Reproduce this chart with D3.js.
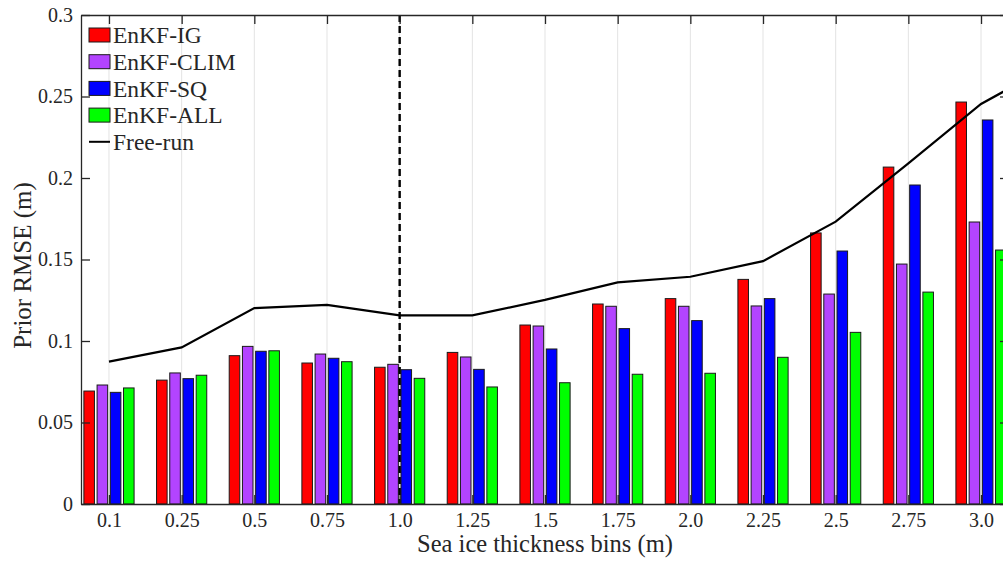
<!DOCTYPE html>
<html>
<head>
<meta charset="utf-8">
<script src="https://cdn.jsdelivr.net/npm/d3@7"></script>
<style>
	body { margin: 0; background: #fff; }
	svg { display: block; }
	text { font-family: "Liberation Serif", "Times New Roman", serif; fill: #262626; }
</style>
</head>
<body>
<svg id="chart" width="1003" height="565"></svg>
<script>
// thickness bins and prior RMSE per experiment
var bins = ["0.1","0.25","0.5","0.75","1.0","1.25","1.5","1.75","2.0","2.25","2.5","2.75","3.0"];
var enkfIG   = [0.0693,0.0760,0.0910,0.0865,0.0839,0.0930,0.1098,0.1227,0.1260,0.1378,0.1663,0.2067,0.2466];
var enkfCLIM = [0.0730,0.0804,0.0967,0.0920,0.0857,0.0902,0.1092,0.1213,0.1213,0.1215,0.1288,0.1472,0.1730];
var enkfSQ   = [0.0685,0.0769,0.0937,0.0894,0.0824,0.0826,0.0951,0.1076,0.1125,0.1260,0.1552,0.1957,0.2356];
var enkfALL  = [0.0712,0.0790,0.0940,0.0873,0.0771,0.0718,0.0744,0.0796,0.0802,0.0900,0.1053,0.1300,0.1558];
var freeRun  = [0.0873,0.0961,0.1202,0.1222,0.1157,0.1157,0.1252,0.1360,0.1394,0.1490,0.1732,0.2090,0.2454,0.2700];
var seriesNames = ["EnKF-IG","EnKF-CLIM","EnKF-SQ","EnKF-ALL"];
var seriesColors = ["#ff0000","#b344ff","#0000ff","#00ff00"];
var yTicks = [0,0.05,0.1,0.15,0.2,0.25,0.3];
var yTickLabels = ["0","0.05","0.1","0.15","0.2","0.25","0.3"];
var splitBin = "1.0";

var series = [enkfIG, enkfCLIM, enkfSQ, enkfALL];

var pLeft = 81, pRight = 1009, pTop = 15, pBottom = 504;

var svg = d3.select("#chart");

var x = d3.scaleLinear().domain([0.615, bins.length + 0.385]).range([pLeft, pRight]);
var y = d3.scaleLinear().domain([0, 0.3]).range([pBottom, pTop]);

// matlab grouped bar geometry
var groupW = series.length / (series.length + 1.5);
var step = groupW / series.length;
var barW = 0.8 * step;

svg.append("defs").append("clipPath")
	.attr("id", "plotClip")
	.append("rect")
	.attr("x", pLeft).attr("y", pTop)
	.attr("width", pRight - pLeft).attr("height", pBottom - pTop);

var g = svg.append("g").attr("clip-path", "url(#plotClip)");

//grid
g.selectAll(".grid")
	.data(bins)
.enter().append("line")
	.attr("class", "grid")
	.attr("x1", function(d,i){ return x(i+1); })
	.attr("x2", function(d,i){ return x(i+1); })
	.attr("y1", pTop)
	.attr("y2", pBottom)
	.style("stroke", "#e3e3e3")
	.style("stroke-width", 1);

//bars
series.forEach(function(vals, k){
	g.selectAll(".bar" + k)
		.data(vals)
	.enter().append("rect")
		.attr("class", "bar" + k)
		.attr("x", function(d,i){ return x(i + 1 - groupW/2 + (k + 0.5)*step - barW/2); })
		.attr("width", x(barW) - x(0))
		.attr("y", function(d){ return y(d); })
		.attr("height", function(d){ return y(0) - y(d); })
		.style("fill", seriesColors[k])
		.style("stroke", "#1a1a1a")
		.style("stroke-width", 1);
});

//free-run line
g.append("path")
	.datum(freeRun)
	.attr("d", d3.line()
		.x(function(d,i){ return x(i+1); })
		.y(function(d){ return y(d); }))
	.style("fill", "none")
	.style("stroke", "#000")
	.style("stroke-width", 2.2);

//dashed split line
var splitX = x(bins.indexOf(splitBin) + 1);
g.append("line")
	.attr("x1", splitX).attr("x2", splitX)
	.attr("y1", pTop).attr("y2", pBottom)
	.style("stroke", "#000")
	.style("stroke-width", 2.4)
	.style("stroke-dasharray", "7,4");

//axes
var tickX = bins.map(function(d,i){ return i+1; });

var xAxis = svg.append("g")
	.attr("transform", "translate(0," + pBottom + ")")
	.call(d3.axisBottom(x).tickValues(tickX).tickFormat(function(d){ return bins[d-1]; })
		.tickSizeInner(-9).tickSizeOuter(0).tickPadding(9));
var xTop = svg.append("g")
	.attr("transform", "translate(0," + pTop + ")")
	.call(d3.axisTop(x).tickValues(tickX).tickFormat("")
		.tickSizeInner(-9).tickSizeOuter(0));
var yAxis = svg.append("g")
	.attr("transform", "translate(" + pLeft + ",0)")
	.call(d3.axisLeft(y).tickValues(yTicks).tickFormat(function(d,i){ return yTickLabels[i]; })
		.tickSizeInner(-9).tickSizeOuter(0).tickPadding(8));
var yRight = svg.append("g")
	.attr("transform", "translate(" + pRight + ",0)")
	.call(d3.axisRight(y).tickValues(yTicks).tickFormat("")
		.tickSizeInner(-9).tickSizeOuter(0));

[xAxis, xTop, yAxis, yRight].forEach(function(a){
	a.select(".domain").style("stroke", "#262626").style("stroke-width", 1.3);
	a.selectAll(".tick line").style("stroke", "#262626").style("stroke-width", 1.3);
	a.selectAll("text")
		.style("font-family", "'Liberation Serif', 'Times New Roman', serif")
		.style("font-size", "20px")
		.style("fill", "#262626");
});

//axis labels
svg.append("text")
	.attr("x", (pLeft + pRight) / 2)
	.attr("y", 552)
	.attr("text-anchor", "middle")
	.style("font-size", "24.5px")
	.text("Sea ice thickness bins (m)");

svg.append("text")
	.attr("transform", "translate(31," + ((pTop + pBottom) / 2 + 6) + ") rotate(-90)")
	.attr("text-anchor", "middle")
	.style("font-size", "25px")
	.text("Prior RMSE (m)");

//legend
var legend = svg.append("g").attr("class", "legend");
seriesNames.forEach(function(name, k){
	var cy = 35 + k * 26.7;
	legend.append("rect")
		.attr("x", 89).attr("y", cy - 7)
		.attr("width", 21).attr("height", 14)
		.style("fill", seriesColors[k])
		.style("stroke", "#1a1a1a")
		.style("stroke-width", 1);
	legend.append("text")
		.attr("x", 113).attr("y", cy)
		.attr("dy", "0.35em")
		.style("font-size", "23.5px")
		.text(name);
});
var ly = 35 + seriesNames.length * 26.7;
legend.append("line")
	.attr("x1", 89).attr("x2", 110)
	.attr("y1", ly).attr("y2", ly)
	.style("stroke", "#000")
	.style("stroke-width", 2);
legend.append("text")
	.attr("x", 113).attr("y", ly)
	.attr("dy", "0.35em")
	.style("font-size", "23.5px")
	.text("Free-run");
</script>
</body>
</html>
